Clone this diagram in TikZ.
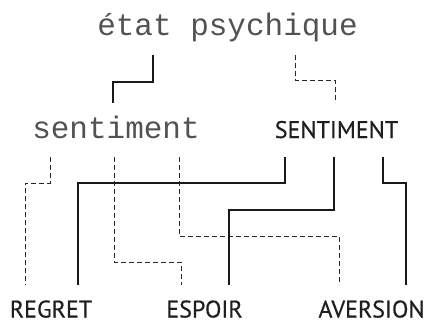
\documentclass[tikz,border=0pt]{standalone}
\usepackage{fontspec}
\newfontfamily\monof{Liberation Mono}
\newfontfamily\sansf[FakeBold=0.4]{PT Sans}
\begin{document}
\begin{tikzpicture}[x=1pt,y=-1pt,
  mono/.style={font=\monof\fontsize{31}{31}\selectfont, text=black!68, inner sep=0pt, anchor=base},
  caps/.style={font=\sansf\fontsize{24}{24}\selectfont, text=black!88, inner sep=0pt, anchor=base},
  solidc/.style={draw=black!90, line width=1.7pt},
  dashc/.style={draw=black!85, line width=0.8pt, dash pattern=on 5pt off 3pt}]
\useasboundingbox (0,0) rectangle (425,322);
\node[mono] (etat) at (227.5,35) {état psychique};
\node[mono] (sent) at (116,138) {sentiment};
\node[caps] (SENT) at (336.5,138) {SENTIMENT};
\node[caps] (regret) at (51,317.5) {REGRET};
\node[caps] (espoir) at (204.5,317.5) {ESPOIR};
\node[caps] (aversion) at (371.5,317.5) {AVERSION};
% top connectors
\draw[solidc] ([xshift=-74.5pt,yshift=-20pt]etat.base) -- ++(0,27) -| ([xshift=-3pt,yshift=35pt]sent.base);
\draw[dashc] ([xshift=67.5pt,yshift=-20pt]etat.base) -- ++(0,25) -| ([xshift=-1.5pt,yshift=35pt]SENT.base);
% bottom connectors
\draw[dashc] ([xshift=-66pt,yshift=-19pt]sent.base) -- ++(0,26) -| ([xshift=-26pt,yshift=32.5pt]regret.base);
\draw[solidc] ([xshift=-51.5pt,yshift=-19pt]SENT.base) -- ++(0,26) -| ([xshift=27pt,yshift=32.5pt]regret.base);
\draw[dashc] ([xshift=-2pt,yshift=-19pt]sent.base) -- ++(0,105) -| ([xshift=-23.5pt,yshift=32.5pt]espoir.base);
\draw[dashc] ([xshift=63pt,yshift=-19pt]sent.base) -- ++(0,79) -| ([xshift=-32.5pt,yshift=32.5pt]aversion.base);
\draw[solidc] ([xshift=-2.5pt,yshift=-19pt]SENT.base) -- ++(0,53) -| ([xshift=24.5pt,yshift=32.5pt]espoir.base);
\draw[solidc] ([xshift=46.5pt,yshift=-19pt]SENT.base) -- ++(0,26) -| ([xshift=34.5pt,yshift=32.5pt]aversion.base);
\end{tikzpicture}
\end{document}
